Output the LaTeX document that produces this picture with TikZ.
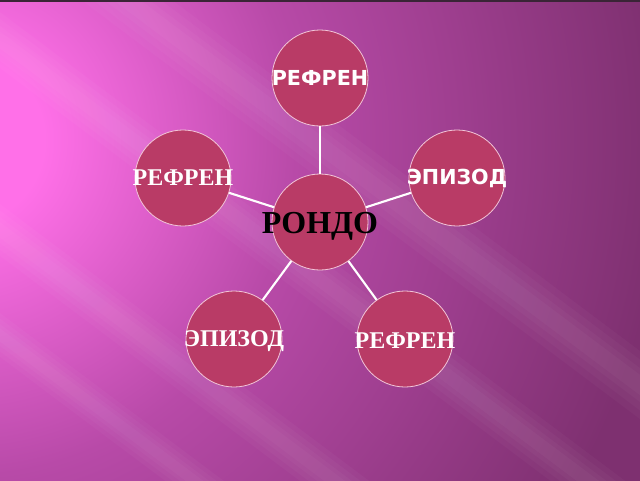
\documentclass[tikz,border=0pt]{standalone}
\usepackage{fontspec}
\newfontfamily\sansru{DejaVu Sans}
\newfontfamily\serifru{Liberation Serif}
\definecolor{petalfill}{HTML}{B93B66}
\definecolor{petalrim}{HTML}{F2C6D8}
\definecolor{glowin}{HTML}{FF70E8}
\definecolor{glowmid}{HTML}{B84AA8}
\definecolor{glowout}{HTML}{7E3070}
\definecolor{topline}{HTML}{3A2436}
\pgfdeclareradialshading{glow}{\pgfpoint{0bp}{0bp}}{color(0bp)=(glowin); color(2.5bp)=(glowin); color(10bp)=(glowmid); color(21bp)=(glowout); color(50bp)=(glowout)}
% soft light band: centre line height at x=0, half width
\newcommand{\streak}[2]{%
  \foreach \w in {1,0.75,0.5,0.3}
    \fill[white, opacity=0.028] (-20,#1-15-#2*\w) -- (660,#1+495-#2*\w) -- (660,#1+495+#2*\w) -- (-20,#1-15+#2*\w) -- cycle;
}
\tikzset{
  petal/.style={circle, draw=petalrim, line width=0.6pt, fill=petalfill, minimum size=72pt, inner sep=0pt},
  sanslbl/.style={text=white, font=\sansru\bfseries\fontsize{15.5}{18}\selectfont},
  seriflbl/.style={text=white, font=\serifru\bfseries\fontsize{18}{21}\selectfont},
  rondolbl/.style={text=black, font=\serifru\bfseries\fontsize{24}{28}\selectfont, yshift=-3pt},
  link/.style={draw=white, line width=1.6pt}
}
\begin{document}
\begin{tikzpicture}[x=0.75pt,y=-0.75pt]
    \useasboundingbox (0,0) rectangle (640,480);
    \clip (0,0) rectangle (640,480);
    \fill[glowout] (0,0) rectangle (640,480);
    \shade[shading=glow] (-40,140) circle (840);
    \streak{230}{26}
    \streak{335}{22}
    \streak{-95}{34}
    \streak{40}{28}
    \fill[topline] (0,0) rectangle (640,1.5);
    \node[petal, label={[sanslbl]center:РЕФРЕН}] (refrainTop) at (320,78) {};
    \node[petal, label={[seriflbl]center:РЕФРЕН}] (refrainLeft) at (183,178) {};
    \node[petal, label={[sanslbl]center:ЭПИЗОД}] (episodeRight) at (457,178) {};
    \node[petal, label={[rondolbl]center:РОНДО}] (rondo) at (320,222) {};
    \node[petal, label={[seriflbl, yshift=-1.5pt]center:ЭПИЗОД}] (episodeLeft) at (234,339) {};
    \node[petal, label={[seriflbl, yshift=-1.5pt]center:РЕФРЕН}] (refrainRight) at (405,339) {};
    \draw[link] (rondo) -- (refrainTop);
    \draw[link] (rondo) -- (refrainLeft);
    \draw[link] (rondo) -- (episodeRight);
    \draw[link] (rondo) -- (episodeLeft);
    \draw[link] (rondo) -- (refrainRight);
\end{tikzpicture}
\end{document}
